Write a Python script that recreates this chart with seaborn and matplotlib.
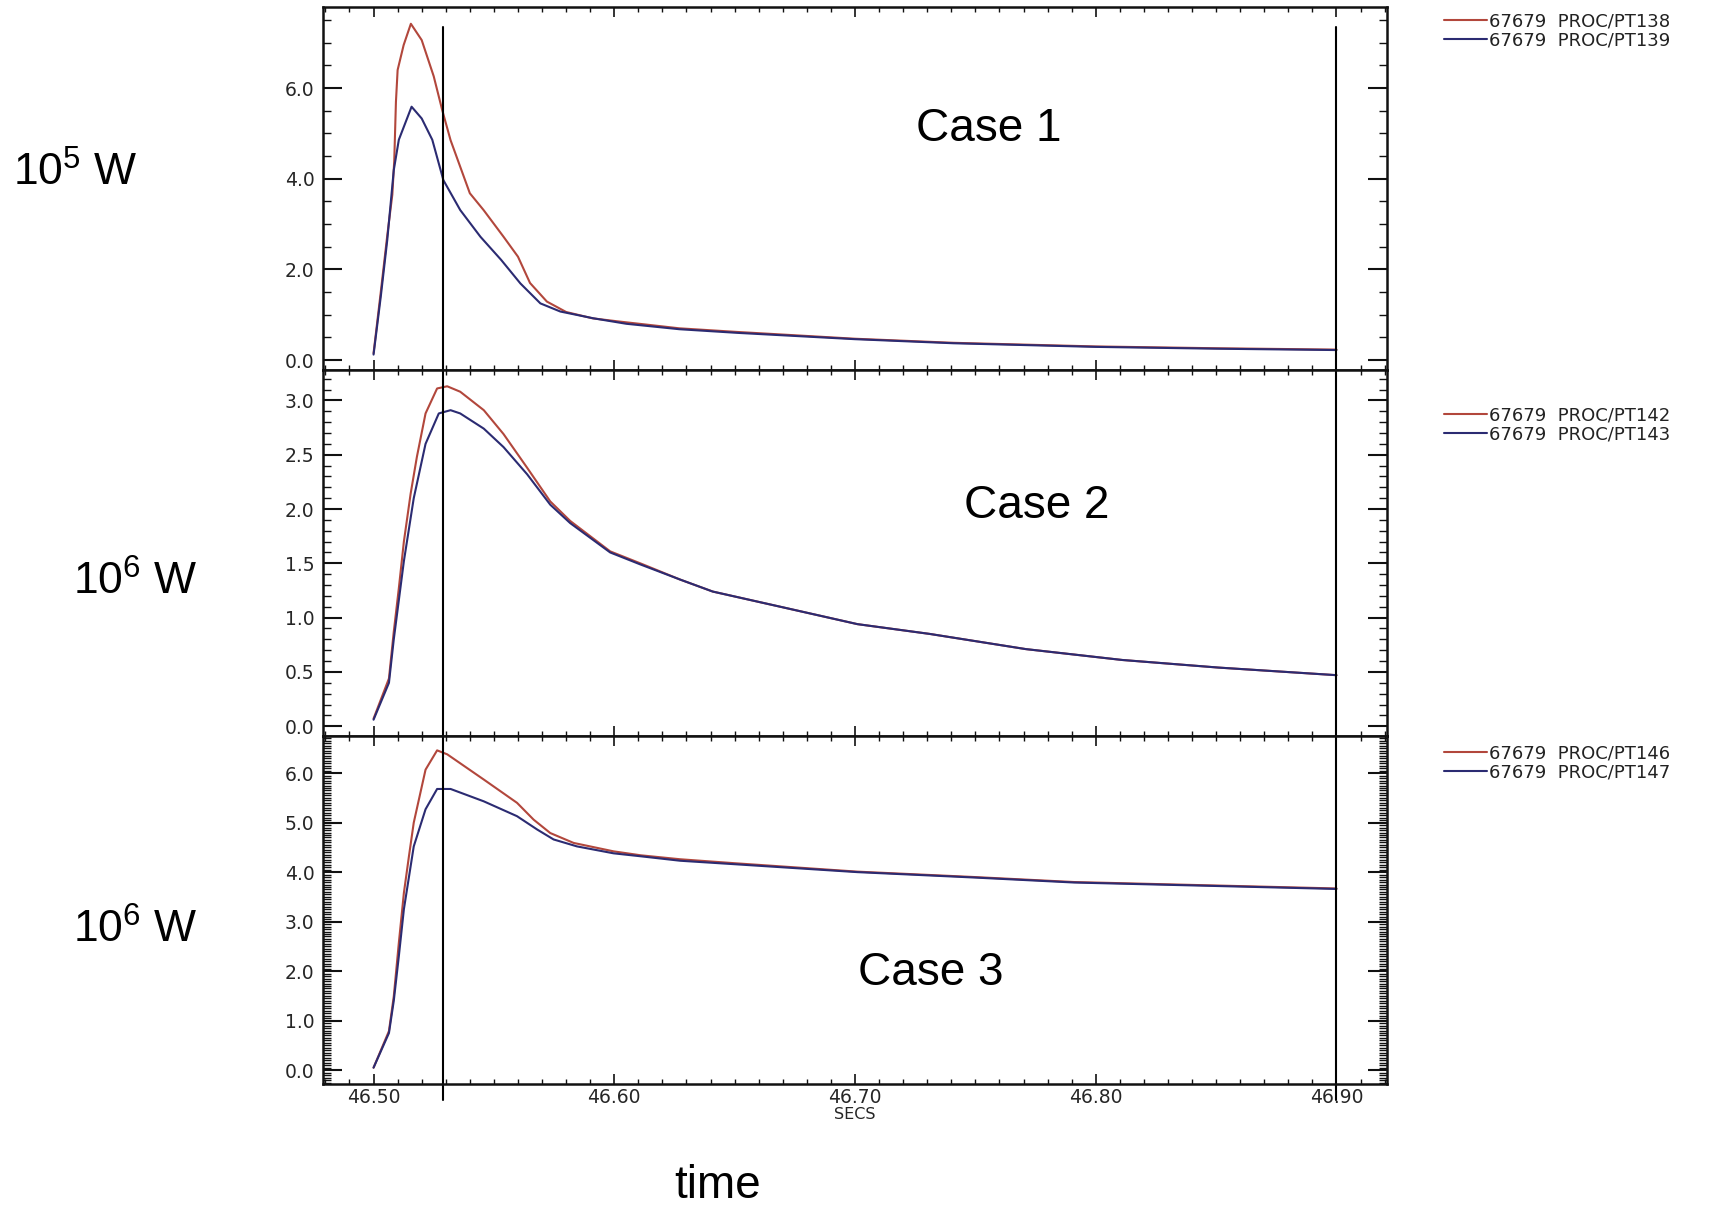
import numpy as np
import pandas as pd
import matplotlib
matplotlib.use("Agg")
import matplotlib.pyplot as plt
import seaborn as sns
from matplotlib.ticker import MultipleLocator, FormatStrFormatter

# ---------------- data ----------------
# Case 1 (10^5 W)
t_pt138 = [46.500, 46.503, 46.5057, 46.5078, 46.5086, 46.5093, 46.5100, 46.5125, 46.5155,
           46.520, 46.525, 46.5285, 46.532, 46.540, 46.5457, 46.554, 46.560, 46.565, 46.572,
           46.580, 46.591, 46.602, 46.627, 46.651, 46.700, 46.741, 46.800, 46.850, 46.900]
v_pt138 = [0.15, 1.5, 2.75, 3.65, 4.4, 5.7, 6.4, 6.95, 7.42,
           7.06, 6.26, 5.52, 4.85, 3.68, 3.31, 2.72, 2.28, 1.70, 1.29,
           1.06, 0.92, 0.85, 0.70, 0.62, 0.47, 0.38, 0.30, 0.26, 0.23]
t_pt139 = [46.500, 46.503, 46.5057, 46.5084, 46.5105, 46.5158, 46.520, 46.5244, 46.529,
           46.536, 46.5444, 46.553, 46.561, 46.5693, 46.5776, 46.5914, 46.605, 46.627,
           46.651, 46.700, 46.741, 46.800, 46.850, 46.900]
v_pt139 = [0.12, 1.4, 2.65, 4.19, 4.86, 5.59, 5.33, 4.86, 3.97,
           3.31, 2.72, 2.21, 1.69, 1.25, 1.07, 0.92, 0.80, 0.68,
           0.60, 0.46, 0.37, 0.29, 0.25, 0.22]

# Case 2 (10^6 W)
t_pt142 = [46.500, 46.5064, 46.5084, 46.5105, 46.5126, 46.5154, 46.518, 46.5216, 46.5264,
           46.5306, 46.536, 46.5458, 46.554, 46.5638, 46.5734, 46.5817, 46.5983, 46.6108,
           46.6274, 46.6409, 46.671, 46.701, 46.731, 46.771, 46.811, 46.851, 46.900]
v_pt142 = [0.07, 0.44, 0.87, 1.27, 1.70, 2.14, 2.48, 2.88, 3.11,
           3.13, 3.08, 2.91, 2.69, 2.38, 2.07, 1.89, 1.61, 1.50,
           1.35, 1.24, 1.09, 0.94, 0.85, 0.71, 0.61, 0.54, 0.47]
t_pt143 = [46.500, 46.5064, 46.5084, 46.5126, 46.5167, 46.5216, 46.5271, 46.532, 46.536,
           46.5458, 46.554, 46.5638, 46.5734, 46.5817, 46.5983, 46.6108, 46.6274, 46.6409,
           46.671, 46.701, 46.731, 46.771, 46.811, 46.851, 46.900]
v_pt143 = [0.06, 0.40, 0.80, 1.52, 2.10, 2.60, 2.88, 2.91, 2.88,
           2.74, 2.57, 2.32, 2.04, 1.87, 1.60, 1.49, 1.35, 1.24,
           1.09, 0.94, 0.85, 0.71, 0.61, 0.54, 0.47]

# Case 3 (10^6 W)
t_pt146 = [46.500, 46.5064, 46.5084, 46.5105, 46.5126, 46.5147, 46.5167, 46.5216, 46.5264,
           46.5306, 46.5458, 46.5596, 46.5665, 46.5734, 46.5831, 46.5997, 46.611, 46.6274,
           46.650, 46.701, 46.750, 46.791, 46.850, 46.900]
v_pt146 = [0.05, 0.79, 1.49, 2.57, 3.58, 4.32, 5.0, 6.07, 6.46,
           6.38, 5.87, 5.40, 5.06, 4.79, 4.59, 4.42, 4.34, 4.26,
           4.18, 4.01, 3.90, 3.80, 3.73, 3.67]
t_pt147 = [46.500, 46.5064, 46.5084, 46.5105, 46.5126, 46.5167, 46.5216, 46.5264, 46.532,
           46.5458, 46.5596, 46.568, 46.5748, 46.5845, 46.5997, 46.611, 46.6274, 46.650,
           46.701, 46.750, 46.791, 46.850, 46.900]
v_pt147 = [0.05, 0.75, 1.40, 2.30, 3.25, 4.52, 5.27, 5.68, 5.68,
           5.43, 5.13, 4.86, 4.66, 4.52, 4.38, 4.32, 4.23, 4.16,
           4.00, 3.89, 3.79, 3.72, 3.66]

labels = [("67679  PROC/PT138", "67679  PROC/PT139"),
          ("67679  PROC/PT142", "67679  PROC/PT143"),
          ("67679  PROC/PT146", "67679  PROC/PT147")]
case_texts = ["Case 1", "Case 2", "Case 3"]
unit_texts = [r"10$^{\mathrm{5}}$ W", r"10$^{\mathrm{6}}$ W", r"10$^{\mathrm{6}}$ W"]
x_ticks = [46.50, 46.60, 46.70, 46.80, 46.90]
cursor_times = [46.529, 46.900]

series = [((t_pt138, v_pt138), (t_pt139, v_pt139)),
          ((t_pt142, v_pt142), (t_pt143, v_pt143)),
          ((t_pt146, v_pt146), (t_pt147, v_pt147))]

# ---------------- style ----------------
sns.set_style("ticks")
plt.rcParams["font.family"] = ["DejaVu Sans"]
plt.rcParams["mathtext.fontset"] = "custom"
plt.rcParams["mathtext.rm"] = "Liberation Sans"
plt.rcParams["mathtext.it"] = "Liberation Sans:italic"
plt.rcParams["mathtext.bf"] = "Liberation Sans:bold"

RED = "#b2473c"
BLUE = "#2b2b72"

W, H = 1718, 1208
fig = plt.figure(figsize=(W / 100, H / 100), dpi=100)
fig.patch.set_facecolor("white")

left = 323 / W
width = (1387 - 323) / W
panels = [(7, 370), (370, 736), (736, 1084)]
ylims = [(-0.22, 7.79), (-0.09, 3.28), (-0.28, 6.75)]
ymajor = [2.0, 0.5, 1.0]
yminor = [0.5, 0.1, 0.05]
legend_tops = [12, 406, 744]
case_pos = [(989, 129), (1037, 506), (931, 973)]
unit_pos = [(75, 173), (135, 582), (135, 930)]

axes = []
for i, (top, bot) in enumerate(panels):
    ax = fig.add_axes([left, 1 - bot / H, width, (bot - top) / H])
    axes.append(ax)
    (tr, vr), (tb, vb) = series[i]
    df_r = pd.DataFrame({"t": tr, "v": vr})
    df_b = pd.DataFrame({"t": tb, "v": vb})
    sns.lineplot(data=df_r, x="t", y="v", ax=ax, color=RED, lw=1.5,
                 estimator=None, sort=False, label=labels[i][0])
    sns.lineplot(data=df_b, x="t", y="v", ax=ax, color=BLUE, lw=1.5,
                 estimator=None, sort=False, label=labels[i][1])

    ax.set_xlim(46.479, 46.921)
    ax.set_ylim(*ylims[i])
    ax.set_xlabel("")
    ax.set_ylabel("")
    ax.xaxis.set_major_locator(plt.FixedLocator(x_ticks))
    ax.xaxis.set_minor_locator(MultipleLocator(0.01))
    ax.yaxis.set_major_locator(MultipleLocator(ymajor[i]))
    ax.yaxis.set_minor_locator(MultipleLocator(yminor[i]))
    ax.yaxis.set_major_formatter(FormatStrFormatter("%.1f"))
    ax.xaxis.set_major_formatter(FormatStrFormatter("%.2f"))
    ax.tick_params(axis="x", which="major", direction="in", length=7, width=1.2,
                   top=True, bottom=True, labelsize=13.5, pad=3, color="#111111")
    ax.tick_params(axis="x", which="minor", direction="in", length=3.5, width=1.0,
                   top=True, bottom=True, color="#111111")
    ax.tick_params(axis="y", which="major", direction="in", length=14, width=1.5,
                   left=True, right=True, labelsize=13.5, pad=6, color="#111111")
    ax.tick_params(axis="y", which="minor", direction="in", length=6, width=1.0,
                   left=True, right=True, color="#111111")
    for sp in ax.spines.values():
        sp.set_visible(True)
        sp.set_linewidth(1.8)
        sp.set_color("#111111")
    if i < 2:
        ax.tick_params(axis="x", labelbottom=False)

    # cursor lines
    for ct in cursor_times:
        if i == 0:
            ax.axvline(ct, ymin=0, ymax=(370 - 27) / (370 - 7), color="black", lw=1.5)
        elif i == 1:
            ax.axvline(ct, color="black", lw=1.5)
        else:
            ax.axvline(ct, ymin=-16 / 348, ymax=1, color="black", lw=1.5, clip_on=False)

    leg = ax.legend(loc="upper left", bbox_to_anchor=(1444 / W, 1 - legend_tops[i] / H),
                    bbox_transform=fig.transFigure, frameon=False, borderpad=0,
                    borderaxespad=0, fontsize=13, handlelength=2.4,
                    handletextpad=0.1, labelspacing=0.1)
    for txt in leg.get_texts():
        txt.set_color("#222222")

    cx, cy = case_pos[i]
    fig.text(cx / W, 1 - cy / H, case_texts[i], ha="center", va="center",
             fontsize=33, family="Liberation Sans", color="black")
    ux, uy = unit_pos[i]
    fig.text(ux / W, 1 - uy / H, unit_texts[i], ha="center", va="center",
             fontsize=32, family="Liberation Sans", color="black")

axes[2].set_xlabel("SECS", fontsize=11.5, labelpad=0)
fig.text(718 / W, 1 - 1186 / H, "time", ha="center", va="center",
         fontsize=33, family="Liberation Sans", color="black")

fig.savefig("out.png", dpi=100, facecolor="white")
